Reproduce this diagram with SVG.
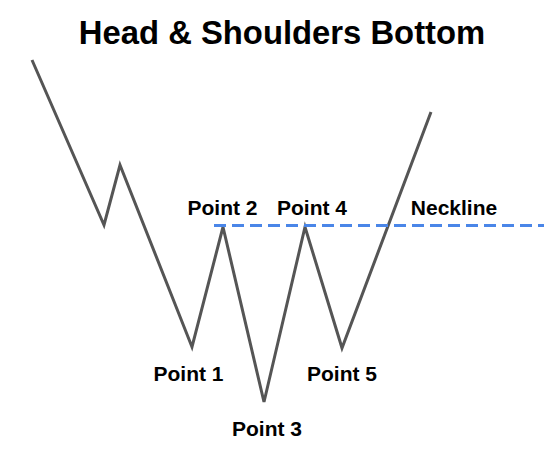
<svg xmlns="http://www.w3.org/2000/svg" width="544" height="452" viewBox="0 0 544 452">
<style>
.t{font-family:"Liberation Sans",Arial,sans-serif;font-weight:bold;fill:#000}
.lbl{font-size:21px;text-anchor:middle}
</style>
<rect width="544" height="452" fill="#fff"/>
<text class="t" x="282" y="44" font-size="32.8" text-anchor="middle">Head &amp; Shoulders Bottom</text>
<g id="connectors">
<polyline id="price" points="32,60 104,225 120,165 192,347 223,227 264,402 305,227 342,348 431,112" fill="none" stroke="#555" stroke-width="3" stroke-linejoin="miter"/>
<line id="neckline-line" x1="214" y1="225.5" x2="544" y2="225.5" stroke="#4a86e8" stroke-width="3" stroke-dasharray="12,6"/>
</g>
<g id="p1"><text class="t lbl" x="188.5" y="381">Point 1</text></g>
<g id="p2"><text class="t lbl" x="222.5" y="215">Point 2</text></g>
<g id="p3"><text class="t lbl" x="267" y="436">Point 3</text></g>
<g id="p4"><text class="t lbl" x="312" y="215">Point 4</text></g>
<g id="p5"><text class="t lbl" x="342" y="381">Point 5</text></g>
<g id="neck"><text class="t lbl" x="454" y="215">Neckline</text></g>
</svg>
